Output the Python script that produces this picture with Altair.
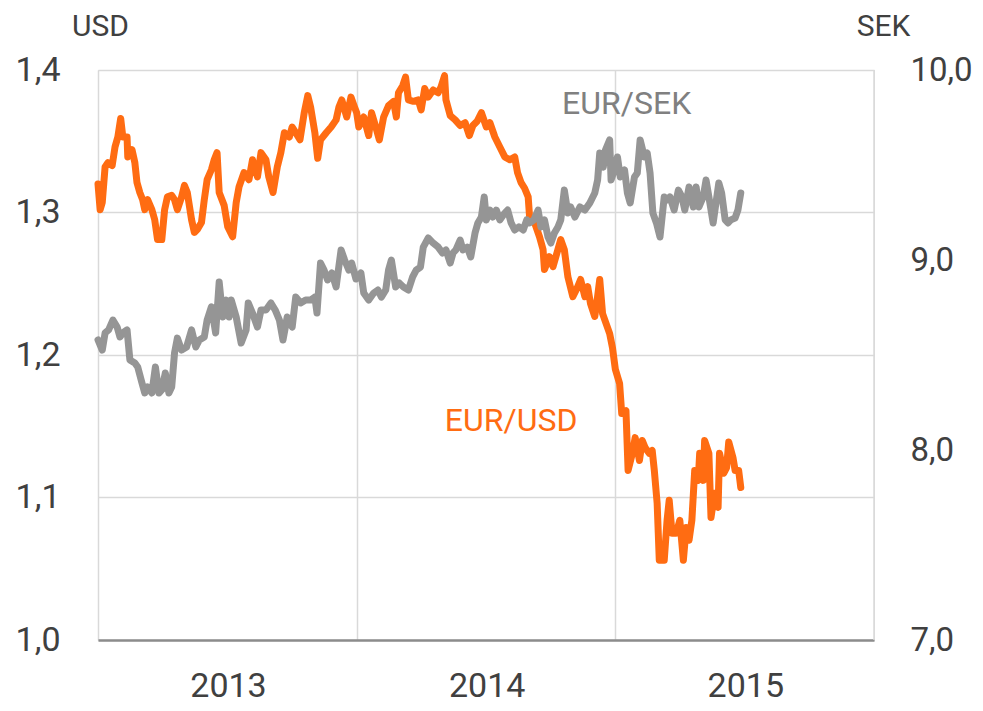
import altair as alt
import pandas as pd

# ---------------- data ----------------
base_date = "2013-01-01"

usd_days = [0, 3, 6, 10, 14, 20, 24, 28, 32, 35,
            41, 42, 48, 52, 55, 59, 63, 66, 70, 76,
            80, 84, 90, 94, 98, 104, 108, 112, 118, 122,
            126, 132, 136, 140, 146, 150, 154, 160, 164, 168,
            171, 178, 183, 190, 195, 199, 206, 213, 218, 225,
            230, 237, 241, 247, 253, 258, 263, 270, 274, 279,
            285, 291, 296, 300, 306, 310, 314, 322, 329, 336,
            340, 344, 351, 357, 362, 365, 368, 375, 382, 386,
            392, 397, 403, 410, 417, 421, 424, 430, 434, 438,
            445, 452, 456, 461, 466, 473, 480, 484, 489, 491,
            497, 504, 511, 518, 524, 529, 535, 541, 548, 553,
            560, 567, 574, 581, 588, 592, 597, 602, 607, 609,
            616, 623, 628, 630, 637, 642, 649, 653, 658, 663,
            670, 677, 681, 687, 691, 695, 701, 705, 708, 712,
            717, 722, 726, 730, 736, 739, 745, 748, 754, 758,
            764, 768, 772, 778, 782, 785, 789, 792, 799, 803,
            806, 810, 816, 821, 826, 830, 834, 838, 842, 847,
            849, 854, 856, 862, 865, 870, 875, 877, 883, 887,
            890, 896, 899, 904, 907]
usd_vals = [1.320, 1.302, 1.307, 1.332, 1.335, 1.333, 1.346, 1.353, 1.366, 1.353,
            1.353, 1.339, 1.344, 1.335, 1.321, 1.314, 1.309, 1.302, 1.309, 1.302,
            1.295, 1.281, 1.281, 1.302, 1.311, 1.312, 1.309, 1.302, 1.311, 1.319,
            1.314, 1.295, 1.286, 1.288, 1.293, 1.309, 1.323, 1.330, 1.337, 1.342,
            1.314, 1.305, 1.290, 1.283, 1.307, 1.318, 1.328, 1.323, 1.337, 1.325,
            1.342, 1.337, 1.325, 1.314, 1.332, 1.342, 1.356, 1.353, 1.360, 1.356,
            1.351, 1.370, 1.382, 1.374, 1.356, 1.338, 1.351, 1.356, 1.360, 1.365,
            1.374, 1.379, 1.367, 1.381, 1.374, 1.370, 1.360, 1.367, 1.354, 1.370,
            1.360, 1.351, 1.367, 1.375, 1.378, 1.367, 1.384, 1.389, 1.395, 1.379,
            1.378, 1.379, 1.372, 1.387, 1.381, 1.386, 1.384, 1.388, 1.396, 1.379,
            1.368, 1.365, 1.361, 1.363, 1.354, 1.361, 1.364, 1.370, 1.360, 1.363,
            1.353, 1.346, 1.339, 1.337, 1.339, 1.328, 1.321, 1.317, 1.311, 1.297,
            1.293, 1.283, 1.274, 1.260, 1.269, 1.262, 1.274, 1.281, 1.274, 1.255,
            1.241, 1.248, 1.253, 1.241, 1.248, 1.236, 1.227, 1.241, 1.253, 1.229,
            1.222, 1.215, 1.205, 1.190, 1.180, 1.159, 1.161, 1.119, 1.131, 1.142,
            1.126, 1.140, 1.135, 1.131, 1.133, 1.119, 1.096, 1.056, 1.056, 1.084,
            1.098, 1.075, 1.075, 1.084, 1.056, 1.079, 1.070, 1.084, 1.119, 1.112,
            1.131, 1.112, 1.140, 1.131, 1.086, 1.103, 1.093, 1.131, 1.117, 1.121,
            1.139, 1.128, 1.119, 1.119, 1.107]

sek_days = [0, 6, 10, 15, 21, 27, 31, 35, 41, 45,
            52, 56, 62, 66, 70, 76, 81, 86, 90, 95,
            100, 104, 108, 112, 118, 125, 132, 138, 143, 150,
            154, 160, 166, 171, 176, 181, 185, 188, 195, 202,
            209, 212, 218, 225, 230, 237, 244, 250, 256, 261,
            267, 274, 279, 286, 293, 300, 306, 309, 314, 319,
            324, 330, 336, 343, 348, 354, 358, 364, 371, 375,
            382, 389, 395, 400, 406, 410, 414, 420, 425, 431,
            438, 444, 449, 455, 459, 466, 473, 480, 486, 491,
            497, 501, 505, 511, 515, 521, 526, 532, 536, 541,
            545, 548, 553, 557, 562, 567, 574, 578, 583, 588,
            594, 600, 605, 609, 615, 621, 625, 630, 635, 639,
            644, 649, 653, 658, 663, 667, 673, 680, 687, 694,
            701, 705, 708, 713, 716, 722, 724, 730, 733, 737,
            743, 747, 751, 757, 761, 765, 771, 775, 779, 783,
            788, 793, 799, 803, 807, 813, 819, 824, 828, 834,
            840, 844, 848, 854, 858, 862, 868, 872, 876, 880,
            885, 889, 893, 899, 903, 907]
sek_vals = [8.579, 8.526, 8.616, 8.632, 8.684, 8.647, 8.595, 8.616, 8.632, 8.474,
            8.458, 8.437, 8.353, 8.300, 8.332, 8.300, 8.437, 8.300, 8.316, 8.405,
            8.300, 8.332, 8.511, 8.589, 8.526, 8.542, 8.632, 8.542, 8.579, 8.595,
            8.684, 8.753, 8.616, 8.884, 8.700, 8.789, 8.700, 8.789, 8.700, 8.563,
            8.632, 8.774, 8.721, 8.647, 8.737, 8.737, 8.774, 8.737, 8.684, 8.579,
            8.700, 8.647, 8.805, 8.774, 8.789, 8.789, 8.805, 8.721, 8.984, 8.947,
            8.895, 8.932, 8.858, 9.053, 9.000, 8.947, 8.984, 8.900, 8.932, 8.826,
            8.789, 8.826, 8.842, 8.805, 8.842, 8.947, 9.000, 8.858, 8.879, 8.858,
            8.842, 8.911, 8.947, 8.963, 9.068, 9.116, 9.089, 9.068, 9.037, 9.053,
            8.984, 9.037, 9.053, 9.105, 9.053, 9.068, 9.016, 9.142, 9.195, 9.226,
            9.332, 9.211, 9.263, 9.226, 9.263, 9.211, 9.247, 9.263, 9.195, 9.158,
            9.174, 9.158, 9.211, 9.195, 9.211, 9.263, 9.174, 9.211, 9.121, 9.089,
            9.142, 9.174, 9.211, 9.368, 9.247, 9.279, 9.226, 9.279, 9.263, 9.300,
            9.353, 9.421, 9.563, 9.489, 9.579, 9.632, 9.421, 9.489, 9.542, 9.437,
            9.474, 9.353, 9.300, 9.437, 9.458, 9.632, 9.542, 9.563, 9.458, 9.247,
            9.195, 9.121, 9.332, 9.316, 9.332, 9.263, 9.368, 9.332, 9.263, 9.384,
            9.279, 9.384, 9.279, 9.332, 9.421, 9.332, 9.195, 9.300, 9.405, 9.353,
            9.211, 9.195, 9.211, 9.221, 9.263, 9.353]

year_ticks = [2013, 2014, 2015]
end_year = 2016
usd_ticks = [1.0, 1.1, 1.2, 1.3, 1.4]
sek_ticks = [7.0, 8.0, 9.0, 10.0]

series_labels = ["EUR/USD", "EUR/SEK"]
label_dates = ["2014-08-07", "2015-01-17"]
label_vals = [1.154, 9.82]

# ---------------- tables ----------------
start = pd.Timestamp(base_date)
usd_df = pd.DataFrame({"date": start + pd.to_timedelta(usd_days, unit="D"), "value": usd_vals})
sek_df = pd.DataFrame({"date": start + pd.to_timedelta(sek_days, unit="D"), "value": sek_vals})
usd_lab = pd.DataFrame({"date": [label_dates[0]], "value": [label_vals[0]], "label": [series_labels[0]]})
sek_lab = pd.DataFrame({"date": [label_dates[1]], "value": [label_vals[1]], "label": [series_labels[1]]})
end_df = pd.DataFrame({"date": [f"{end_year}-01-01T00:00:00"]})

FONT = "Roboto, DejaVu Sans Condensed, sans-serif"
TXT = "#404040"
GRID = "#d9d9d9"
ORANGE = "#FF6C12"
GREY = "#959595"
LABEL_SIZE = 34

comma_fmt = "replace(format(datum.value, '.1f'), '.', ',')"

x_scale = alt.Scale(domain=[alt.DateTime(year=year_ticks[0], month=1, date=1),
                            alt.DateTime(year=end_year, month=1, date=1)])
x_axis = alt.Axis(
    values=[alt.DateTime(year=y, month=1, date=1) for y in year_ticks],
    format="%Y",
    grid=True, gridColor=GRID, gridWidth=1.5,
    domain=True, domainColor="#8c8c8c", domainWidth=2.5,
    ticks=False, tickSize=0,
    labelOffset=130, labelPadding=29, labelFlush=False, labelOverlap=False,
    labelFont=FONT, labelFontSize=LABEL_SIZE, labelColor=TXT, title=None,
)
x_enc = alt.X("date:T", scale=x_scale, axis=x_axis)

usd_scale = alt.Scale(domain=[usd_ticks[0], usd_ticks[-1]], zero=False, nice=False)
sek_scale = alt.Scale(domain=[sek_ticks[0], sek_ticks[-1]], zero=False, nice=False)

end_rule = alt.Chart(end_df).mark_rule(color=GRID, strokeWidth=1.5).encode(x=x_enc)

usd_line = alt.Chart(usd_df).mark_line(
    color=ORANGE, strokeWidth=7, strokeJoin="round", strokeCap="round"
).encode(
    x=x_enc,
    y=alt.Y("value:Q", scale=usd_scale, axis=alt.Axis(
        orient="left", values=usd_ticks, labelExpr=comma_fmt,
        grid=True, gridColor=GRID, gridWidth=1.5, domain=False, ticks=False, tickSize=0,
        labelPadding=38, labelFont=FONT, labelFontSize=LABEL_SIZE, labelColor=TXT,
        title="USD", titleAngle=0, titleX=2, titleY=-44, titleAlign="center",
        titleBaseline="middle", titleFont=FONT, titleFontSize=30,
        titleFontWeight="normal", titleColor=TXT,
    )),
)

sek_line = alt.Chart(sek_df).mark_line(
    color=GREY, strokeWidth=7, strokeJoin="round", strokeCap="round"
).encode(
    x=x_enc,
    y=alt.Y("value:Q", scale=sek_scale, axis=alt.Axis(
        orient="right", values=sek_ticks, labelExpr=comma_fmt,
        grid=False, domain=False, ticks=False, tickSize=0,
        labelPadding=36, labelFont=FONT, labelFontSize=33, labelColor=TXT,
        title="SEK", titleAngle=0, titleX=9, titleY=-44, titleAlign="center",
        titleBaseline="middle", titleFont=FONT, titleFontSize=30,
        titleFontWeight="normal", titleColor=TXT,
    )),
)

usd_text = alt.Chart(usd_lab).mark_text(
    font=FONT, fontSize=32, color=ORANGE, align="center", baseline="middle"
).encode(x=x_enc, y=alt.Y("value:Q", scale=usd_scale, axis=None), text="label:N")

sek_text = alt.Chart(sek_lab).mark_text(
    font=FONT, fontSize=32, color="#808080", align="center", baseline="middle"
).encode(x=x_enc, y=alt.Y("value:Q", scale=sek_scale, axis=None), text="label:N")

chart = alt.layer(usd_line, end_rule, usd_text, sek_line, sek_text).resolve_scale(
    y="independent"
).properties(
    width=776, height=570,
    autosize=alt.AutoSizeParams(type="none"),
    padding={"left": 90, "top": 62, "right": 101, "bottom": 63},
).configure_view(stroke=None).configure(background="white")

chart.save("out.html", embed_options={"renderer": "svg", "actions": False})
